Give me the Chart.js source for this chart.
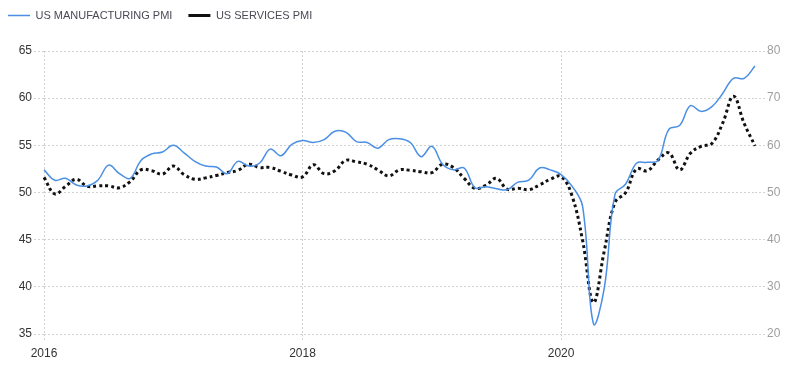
<!DOCTYPE html>
<html>
<head>
<meta charset="utf-8">
<script src="https://cdn.jsdelivr.net/npm/chart.js@4.4.0/dist/chart.umd.min.js"></script>
<style>
  body { margin: 0; background: #fff; }
</style>
</head>
<body>
<canvas id="pmi-chart" width="800" height="368"></canvas>
<script>
// monthly categories, Jan 2016 .. Jul 2021
const months = [];
for (let y = 2016; y <= 2021; y++) {
  for (let m = 1; m <= 12; m++) {
    if (y === 2021 && m > 7) break;
    months.push(y + '-' + String(m).padStart(2, '0'));
  }
}
const yearTicks = ['2016', '2018', '2020'];

const manufacturingPmi = [
  52.4, 51.3, 51.5, 50.8, 50.7, 51.3, 52.9, 52.0, 51.5, 53.4, 54.1, 54.3,
  55.0, 54.2, 53.3, 52.8, 52.7, 52.0, 53.3, 52.8, 53.1, 54.6, 53.9, 55.1,
  55.5, 55.3, 55.6, 56.5, 56.4, 55.4, 55.3, 54.7, 55.6, 55.7, 55.3, 53.8,
  54.9, 53.0, 52.4, 52.6, 50.5, 50.6, 50.4, 50.3, 51.1, 51.3, 52.6, 52.4,
  51.9, 50.7, 48.5, 36.1, 39.8, 49.8, 50.9, 53.1, 53.2, 53.4, 56.7, 57.1,
  59.2, 58.6, 59.1, 60.5, 62.1, 62.1, 63.4
];
const servicesPmi = [
  53.2, 49.7, 51.3, 52.8, 51.3, 51.4, 51.4, 51.0, 52.3, 54.8, 54.6, 53.9,
  55.6, 53.8, 52.8, 53.1, 53.6, 54.2, 54.7, 56.0, 55.3, 55.3, 54.5, 53.7,
  53.3, 55.9, 54.0, 54.6, 56.8, 56.5, 56.0, 54.8, 53.5, 54.8, 54.7, 54.4,
  54.2, 56.0, 55.3, 53.0, 50.9, 51.5, 53.0, 50.7, 50.9, 50.6, 51.6, 52.8,
  53.4, 49.4, 39.8, 26.7, 37.5, 47.9, 50.0, 55.0, 54.6, 56.9, 58.4, 54.8,
  58.3, 59.8, 60.4, 64.7, 70.4, 64.6, 59.9
];

const gridColor = '#d2d2d2';
const fontFamily = "'Liberation Sans', Arial, sans-serif";

new Chart(document.getElementById('pmi-chart'), {
  type: 'line',
  data: {
    labels: months,
    datasets: [
      {
        label: 'US MANUFACTURING PMI',
        data: manufacturingPmi,
        yAxisID: 'y',
        borderColor: '#4a8fe4',
        borderWidth: 1.5,
        pointRadius: 0,
        tension: 0.4,
        fill: false
      },
      {
        label: 'US SERVICES PMI',
        data: servicesPmi,
        yAxisID: 'y1',
        borderColor: '#111',
        borderWidth: 3,
        borderDash: [3, 3],
        pointRadius: 0,
        tension: 0.4,
        fill: false
      }
    ]
  },
  options: {
    responsive: false,
    animation: false,
    layout: { padding: { top: -6, left: -8 } },
    plugins: {
      legend: {
        position: 'top',
        align: 'start',
        labels: {
          usePointStyle: true,
          pointStyle: 'line',
          pointStyleWidth: 22,
          padding: 16,
          color: '#4a4a55',
          font: { family: fontFamily, size: 11 }
        }
      },
      // empty title used only as a gap between legend and plot
      title: {
        display: true,
        text: '',
        weight: 500,
        padding: 0,
        font: { size: 20, lineHeight: 1 }
      },
      tooltip: { enabled: false }
    },
    scales: {
      x: {
        grid: { color: gridColor, tickLength: 8, tickBorderDash: [2, 2] },
        border: { display: false, dash: [2, 2] },
        ticks: {
          autoSkip: false,
          maxRotation: 0,
          padding: 4,
          color: '#333',
          font: { family: fontFamily, size: 12 },
          callback: function (value) {
            const lab = this.getLabelForValue(value);
            const yr = lab.slice(0, 4);
            return lab.endsWith('-01') && yearTicks.includes(yr) ? yr : null;
          }
        },
        afterFit(scale) { scale.height = 34; }
      },
      y: {
        position: 'left',
        min: 35,
        max: 65,
        ticks: {
          stepSize: 5,
          padding: 2,
          color: '#333',
          font: { family: fontFamily, size: 12 }
        },
        grid: { color: gridColor, tickLength: 10, tickBorderDash: [2, 2] },
        border: { display: false, dash: [2, 2] },
        afterFit(scale) { scale.width = 52; }
      },
      y1: {
        position: 'right',
        min: 20,
        max: 80,
        ticks: {
          stepSize: 10,
          padding: 2,
          color: '#9e9e9e',
          font: { family: fontFamily, size: 12 }
        },
        grid: { drawOnChartArea: false, color: gridColor, tickLength: 10, tickBorderDash: [2, 2] },
        border: { display: false, dash: [2, 2] },
        afterFit(scale) { scale.width = 45; }
      }
    }
  }
});
</script>
</body>
</html>
